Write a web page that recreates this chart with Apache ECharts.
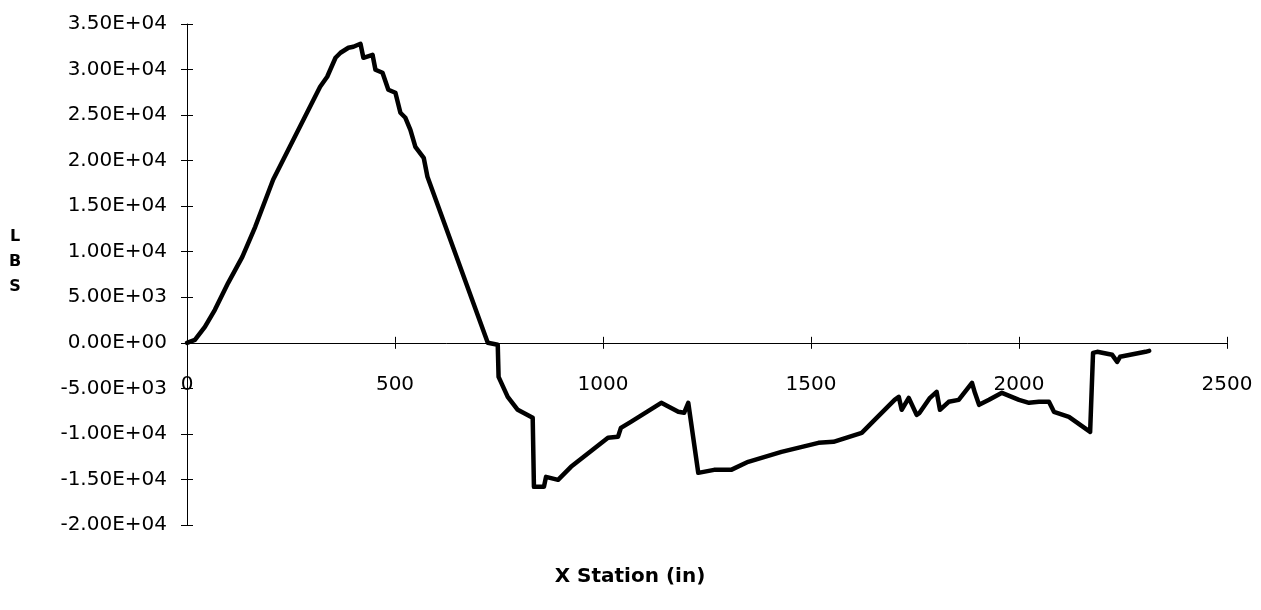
<!DOCTYPE html>
<html>
<head>
<meta charset="utf-8">
<script src="https://cdn.jsdelivr.net/npm/echarts@6/dist/echarts.min.js"></script>
<style>
html,body{margin:0;padding:0;background:#fff;}
#chart{width:1261px;height:610px;}
</style>
</head>
<body>
<div id="chart"></div>
<script>
// X station (in)
const xStation = [0, 19, 43, 67, 99, 133, 164, 207, 320, 337, 357, 369, 388, 400, 417, 424, 446, 453, 470, 484, 501, 513, 525, 537, 549, 569, 578, 723, 747, 749, 771, 795, 831, 834, 858, 863, 892, 923, 1012, 1036, 1043, 1067, 1140, 1181, 1195, 1205, 1229, 1267, 1308, 1349, 1429, 1518, 1554, 1622, 1653, 1701, 1711, 1718, 1735, 1754, 1761, 1786, 1802, 1810, 1831, 1855, 1887, 1894, 1904, 1928, 1959, 2000, 2024, 2048, 2072, 2084, 2120, 2171, 2178, 2188, 2224, 2236, 2243, 2304, 2313];
// LBS
const lbs = [0, 330, 1757, 3623, 6588, 9443, 12737, 17897, 28109, 29207, 31293, 31842, 32391, 32501, 32830, 31293, 31622, 29975, 29646, 27779, 27450, 25254, 24705, 23387, 21521, 20313, 18227, 0, -220, -3733, -5929, -7357, -8235, -15811, -15811, -14713, -15043, -13615, -10431, -10321, -9333, -8674, -6588, -7576, -7686, -6588, -14274, -13945, -13945, -13066, -11968, -10980, -10870, -9882, -8455, -6259, -5929, -7357, -6039, -7906, -7686, -6039, -5380, -7357, -6478, -6259, -4392, -5490, -6808, -6259, -5490, -6259, -6588, -6478, -6478, -7576, -8125, -9772, -1098, -988, -1318, -2086, -1537, -988, -878];
const yTickValues = [-20000, -15000, -10000, -5000, 0, 5000, 10000, 15000, 20000, 25000, 30000, 35000];
const yTickLabels = ['-2.00E+04', '-1.50E+04', '-1.00E+04', '-5.00E+03', '0.00E+00', '5.00E+03', '1.00E+04', '1.50E+04', '2.00E+04', '2.50E+04', '3.00E+04', '3.50E+04'];
const xTickLabels = ['0', '500', '1000', '1500', '2000', '2500'];
const xTitle = 'X Station (in)';
const yTitle = 'L\nB\nS';

const FONT = 'DejaVu Sans';
const Y_MIN = -20000, Y_MAX = 35000;
const GRID_TOP = 24, GRID_BOTTOM = 85, H = 610;
const gridH = H - GRID_TOP - GRID_BOTTOM;
// shift the x axis up so it sits on y = 0
const zeroOffset = -gridH * (0 - Y_MIN) / (Y_MAX - Y_MIN);

const chart = echarts.init(document.getElementById('chart'), null, {renderer: 'canvas'});
const axisLineStyle = {color: '#000', width: 1};
const yLab = v => { const i = yTickValues.indexOf(v); return i >= 0 ? yTickLabels[i] : ''; };
const xLab = v => { const i = Math.round(v / 500); return (v % 500 === 0 && xTickLabels[i] !== undefined) ? xTickLabels[i] : ''; };

chart.setOption({
  animation: false,
  backgroundColor: '#fff',
  grid: {left: 187, right: 34, top: GRID_TOP, bottom: GRID_BOTTOM, containLabel: false, outerBoundsMode: 'none'},
  graphic: [{
    type: 'text', x: 630, y: 577,
    style: {text: xTitle, fill: '#000', font: 'bold 20px "DejaVu Sans"', align: 'center', verticalAlign: 'middle'}
  }, {
    type: 'text', x: 15, y: 262,
    style: {text: yTitle, fill: '#000', font: 'bold 16px "DejaVu Sans"', lineHeight: 25, align: 'center', verticalAlign: 'middle'}
  }],
  xAxis: [{
    type: 'value', min: 0, max: 2500, interval: 500, position: 'bottom', offset: zeroOffset,
    axisLine: {show: true, onZero: false, lineStyle: axisLineStyle},
    axisTick: {show: true, inside: false, length: 6, lineStyle: axisLineStyle},
    axisLabel: {show: true, margin: 32, color: '#000', fontFamily: FONT, fontSize: 20, formatter: xLab},
    splitLine: {show: false}
  }, {
    type: 'value', min: 0, max: 2500, interval: 500, position: 'bottom', offset: zeroOffset,
    axisLine: {show: false, onZero: false},
    axisTick: {show: true, inside: true, length: 6, lineStyle: axisLineStyle},
    axisLabel: {show: false}, splitLine: {show: false}
  }],
  yAxis: [{
    type: 'value', min: Y_MIN, max: Y_MAX, interval: 5000,
    axisLine: {show: true, onZero: false, lineStyle: axisLineStyle},
    axisTick: {show: true, inside: false, length: 6, lineStyle: axisLineStyle},
    axisLabel: {show: true, margin: 20, color: '#000', fontFamily: FONT, fontSize: 20, formatter: yLab},
    splitLine: {show: false}
  }, {
    type: 'value', min: Y_MIN, max: Y_MAX, interval: 5000, position: 'left',
    axisLine: {show: false, onZero: false},
    axisTick: {show: true, inside: true, length: 6, lineStyle: axisLineStyle},
    axisLabel: {show: false}, splitLine: {show: false}
  }],
  series: [{
    type: 'line',
    xAxisIndex: 0, yAxisIndex: 0,
    data: xStation.map((x, i) => [x, lbs[i]]),
    showSymbol: false, symbol: 'none',
    lineStyle: {color: '#000', width: 4.5, join: 'round', cap: 'round'},
    clip: false
  }]
});
</script>
</body>
</html>
